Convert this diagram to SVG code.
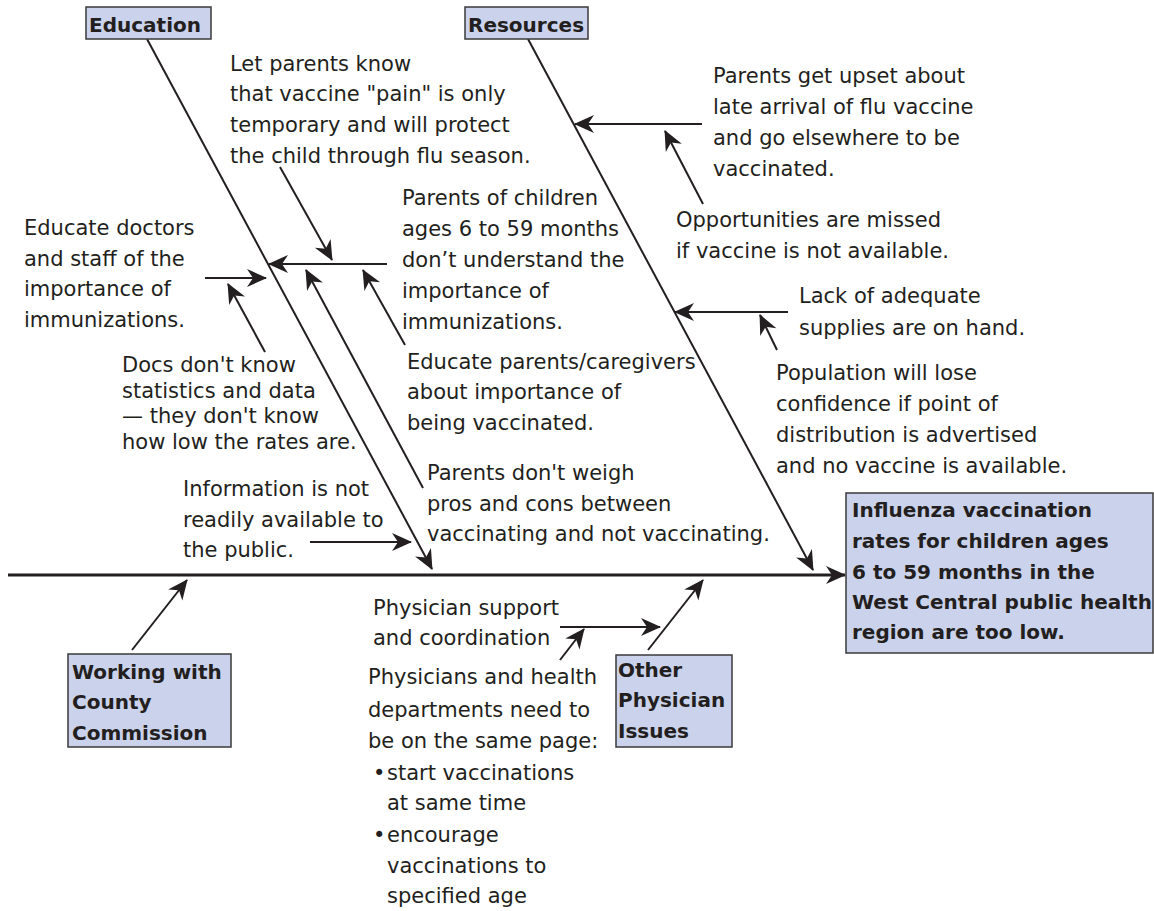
<svg xmlns="http://www.w3.org/2000/svg" width="1154" height="911" viewBox="0 0 1154 911">
<style>
.t{font-family:"DejaVu Sans",sans-serif;font-size:21px;fill:#231f20}
.b{font-family:"DejaVu Sans",sans-serif;font-size:20px;font-weight:bold;fill:#231f20}
.box{fill:#cbd3ec;stroke:#3a3a3a;stroke-width:1.5}
.ln{stroke:#231f20;stroke-width:2;fill:none}
.sp{stroke:#231f20;stroke-width:3;fill:none}
</style>
<defs>
<marker id="ah" markerUnits="userSpaceOnUse" viewBox="-22 -11 24 22" refX="0" refY="0" markerWidth="24" markerHeight="22" orient="auto">
<path d="M1,0 L-19,-9 L-13,0 L-19,9 Z" fill="#231f20"/>
</marker>
</defs>
<rect width="1154" height="911" fill="#ffffff"/>
<g id="connectors">
<line class="ln" x1="147" y1="39" x2="432" y2="569" marker-end="url(#ah)"/>
<line class="ln" x1="528" y1="39" x2="813" y2="570" marker-end="url(#ah)"/>
<line class="sp" x1="8" y1="575" x2="845" y2="575" marker-end="url(#ah)"/>
<line class="ln" x1="132" y1="650" x2="187" y2="580" marker-end="url(#ah)"/>
<line class="ln" x1="648" y1="650" x2="703" y2="580" marker-end="url(#ah)"/>
<line class="ln" x1="560" y1="627" x2="660" y2="627" marker-end="url(#ah)"/>
<line class="ln" x1="560" y1="660" x2="584" y2="629" marker-end="url(#ah)"/>
<line class="ln" x1="387" y1="264" x2="269" y2="264" marker-end="url(#ah)"/>
<line class="ln" x1="280" y1="167" x2="332" y2="260" marker-end="url(#ah)"/>
<line class="ln" x1="423" y1="488" x2="306" y2="270" marker-end="url(#ah)"/>
<line class="ln" x1="405" y1="345" x2="363" y2="270" marker-end="url(#ah)"/>
<line class="ln" x1="205" y1="278" x2="266" y2="278" marker-end="url(#ah)"/>
<line class="ln" x1="265" y1="352" x2="228" y2="284" marker-end="url(#ah)"/>
<line class="ln" x1="310" y1="542" x2="411" y2="542" marker-end="url(#ah)"/>
<line class="ln" x1="702" y1="124" x2="575" y2="124" marker-end="url(#ah)"/>
<line class="ln" x1="703" y1="204" x2="665" y2="131" marker-end="url(#ah)"/>
<line class="ln" x1="788" y1="312" x2="675" y2="312" marker-end="url(#ah)"/>
<line class="ln" x1="777" y1="350" x2="760" y2="315" marker-end="url(#ah)"/>
</g>
<g id="effect">
<rect class="box" x="846" y="493" width="307" height="160"/>
<text class="b"><tspan x="852" y="517">Influenza vaccination</tspan><tspan x="852" y="548">rates for children ages</tspan><tspan x="852" y="579">6 to 59 months in the</tspan><tspan x="852" y="609">West Central public health</tspan><tspan x="852" y="639">region are too low.</tspan></text>
</g>
<g id="education">
<rect class="box" x="86" y="7" width="125" height="32"/>
<text class="b" x="89" y="32">Education</text>
</g>
<g id="resources">
<rect class="box" x="465" y="7" width="123" height="32"/>
<text class="b" x="468" y="32">Resources</text>
</g>
<g id="county">
<rect class="box" x="68" y="654" width="163" height="93"/>
<text class="b"><tspan x="72" y="679">Working with</tspan><tspan x="72" y="709">County</tspan><tspan x="72" y="740">Commission</tspan></text>
</g>
<g id="physician">
<rect class="box" x="616" y="655" width="116" height="92"/>
<text class="b"><tspan x="618" y="677">Other</tspan><tspan x="618" y="707">Physician</tspan><tspan x="618" y="738">Issues</tspan></text>
</g>
<g id="let-parents-know">
<text class="t"><tspan x="230" y="71">Let parents know</tspan><tspan x="230" y="101">that vaccine "pain" is only</tspan><tspan x="230" y="132">temporary and will protect</tspan><tspan x="230" y="163">the child through flu season.</tspan></text>
</g>
<g id="parents-of-children">
<text class="t"><tspan x="402" y="205">Parents of children</tspan><tspan x="402" y="236">ages 6 to 59 months</tspan><tspan x="402" y="267">don’t understand the</tspan><tspan x="402" y="298">importance of</tspan><tspan x="402" y="329">immunizations.</tspan></text>
</g>
<g id="educate-doctors">
<text class="t"><tspan x="24" y="235">Educate doctors</tspan><tspan x="24" y="266">and staff of the</tspan><tspan x="24" y="296">importance of</tspan><tspan x="24" y="327">immunizations.</tspan></text>
</g>
<g id="docs-dont-know">
<text class="t"><tspan x="122" y="372">Docs don't know</tspan><tspan x="122" y="398">statistics and data</tspan><tspan x="122" y="423">— they don't know</tspan><tspan x="122" y="449">how low the rates are.</tspan></text>
</g>
<g id="educate-parents">
<text class="t"><tspan x="407" y="369">Educate parents/caregivers</tspan><tspan x="407" y="399">about importance of</tspan><tspan x="407" y="430">being vaccinated.</tspan></text>
</g>
<g id="information">
<text class="t"><tspan x="183" y="496">Information is not</tspan><tspan x="183" y="527">readily available to</tspan><tspan x="183" y="557">the public.</tspan></text>
</g>
<g id="parents-dont-weigh">
<text class="t"><tspan x="427" y="480">Parents don't weigh</tspan><tspan x="427" y="511">pros and cons between</tspan><tspan x="427" y="541">vaccinating and not vaccinating.</tspan></text>
</g>
<g id="parents-upset">
<text class="t"><tspan x="713" y="83">Parents get upset about</tspan><tspan x="713" y="114">late arrival of flu vaccine</tspan><tspan x="713" y="145">and go elsewhere to be</tspan><tspan x="713" y="176">vaccinated.</tspan></text>
</g>
<g id="opportunities">
<text class="t"><tspan x="676" y="227">Opportunities are missed</tspan><tspan x="676" y="258">if vaccine is not available.</tspan></text>
</g>
<g id="lack-of-supplies">
<text class="t"><tspan x="799" y="303">Lack of adequate</tspan><tspan x="799" y="335">supplies are on hand.</tspan></text>
</g>
<g id="population">
<text class="t"><tspan x="776" y="380">Population will lose</tspan><tspan x="776" y="411">confidence if point of</tspan><tspan x="776" y="442">distribution is advertised</tspan><tspan x="776" y="473">and no vaccine is available.</tspan></text>
</g>
<g id="physician-support">
<text class="t"><tspan x="373" y="615">Physician support</tspan><tspan x="373" y="645">and coordination</tspan></text>
</g>
<g id="same-page">
<text class="t"><tspan x="368" y="684">Physicians and health</tspan><tspan x="368" y="717">departments need to</tspan><tspan x="368" y="748">be on the same page:</tspan><tspan x="373" y="780">•</tspan><tspan x="387" y="780">start vaccinations</tspan><tspan x="387" y="810">at same time</tspan><tspan x="373" y="842">•</tspan><tspan x="387" y="842">encourage</tspan><tspan x="387" y="873">vaccinations to</tspan><tspan x="387" y="903">specified age</tspan></text>
</g>
</svg>
